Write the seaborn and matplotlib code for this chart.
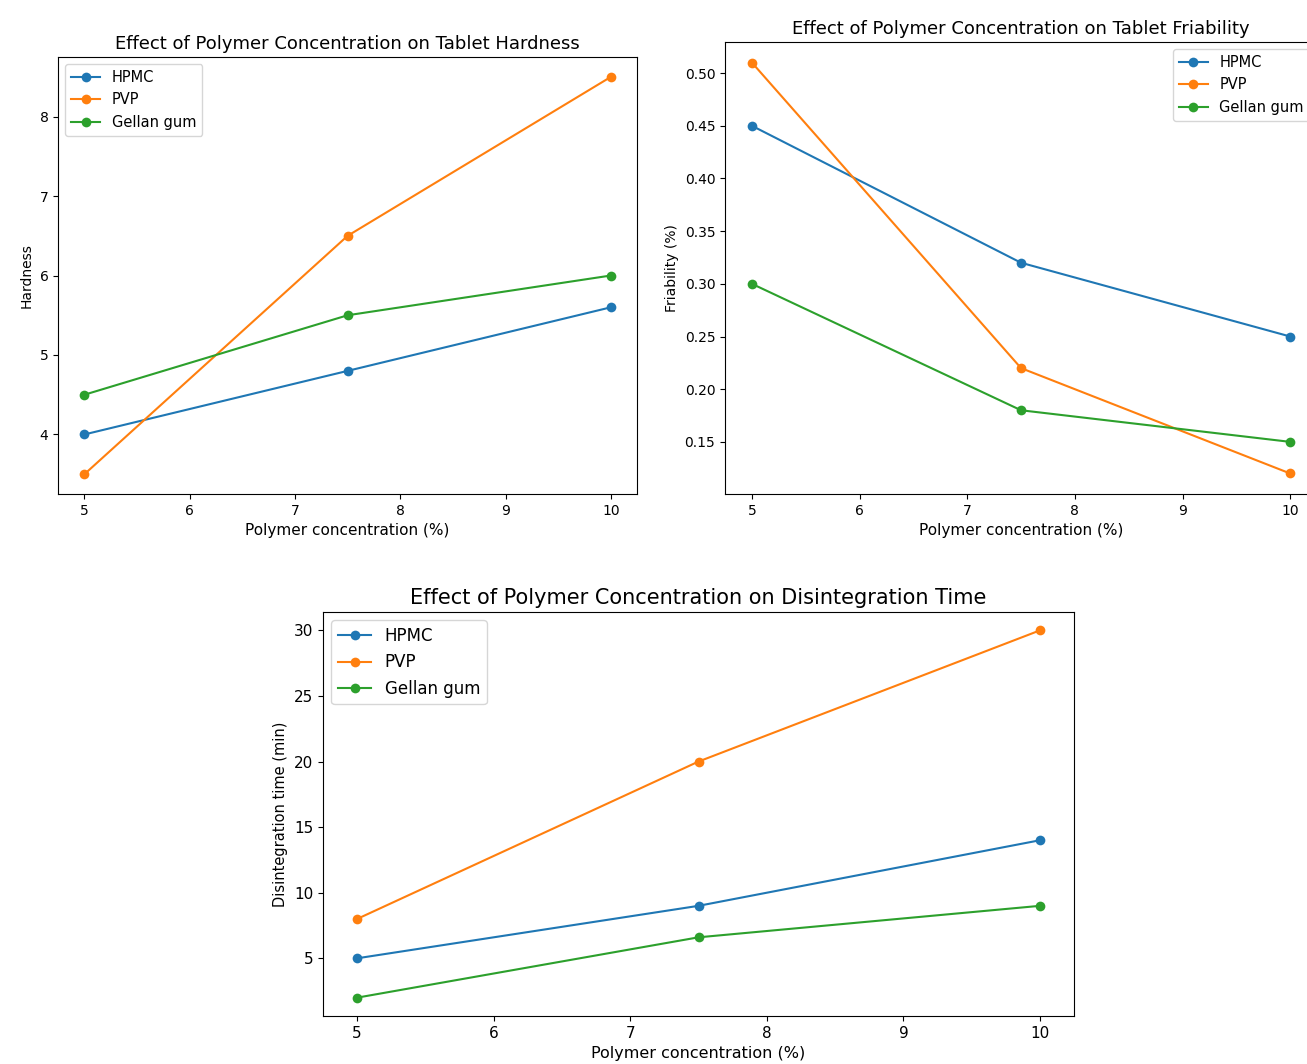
import numpy as np
import pandas as pd
import seaborn as sns
from matplotlib import pyplot as plt

concentration = [5, 7.5, 10]
polymers = ['HPMC', 'PVP', 'Gellan gum']
colors = ['#1f77b4', '#ff7f0e', '#2ca02c']

hardness_hpmc = [4.0, 4.8, 5.6]
hardness_pvp = [3.5, 6.5, 8.5]
hardness_gellan = [4.5, 5.5, 6.0]

friability_hpmc = [0.45, 0.32, 0.25]
friability_pvp = [0.51, 0.22, 0.12]
friability_gellan = [0.30, 0.18, 0.15]

disint_hpmc = [5, 9, 14]
disint_pvp = [8, 20, 30]
disint_gellan = [2, 6.6, 9]


def draw(ax, series, title, ylabel, loc, title_size, tick_size, label_size, legend_size):
    for name, vals, c in zip(polymers, series, colors):
        sns.lineplot(x=concentration, y=vals, ax=ax, label=name, color=c,
                     marker='o', markersize=7, markeredgewidth=0, linewidth=1.5)
    ax.set_title(title, fontsize=title_size)
    ax.set_xlabel('Polymer concentration (%)', fontsize=label_size)
    ax.set_ylabel(ylabel, fontsize=label_size - 1)
    ax.tick_params(labelsize=tick_size)
    ax.legend(loc=loc, fontsize=legend_size)


fig = plt.figure(figsize=(13.07, 10.64), dpi=100)
ax1 = fig.add_axes([0.0445, 0.5357, 0.4430, 0.4107])
ax2 = fig.add_axes([0.5547, 0.5357, 0.4530, 0.4248])
ax3 = fig.add_axes([0.2471, 0.0451, 0.5747, 0.3797])

draw(ax1, [hardness_hpmc, hardness_pvp, hardness_gellan],
     'Effect of Polymer Concentration on Tablet Hardness', 'Hardness',
     'upper left', 13, 10, 11, 10.5)
draw(ax2, [friability_hpmc, friability_pvp, friability_gellan],
     'Effect of Polymer Concentration on Tablet Friability', 'Friability (%)',
     'upper right', 13, 10, 11, 10.5)
draw(ax3, [disint_hpmc, disint_pvp, disint_gellan],
     'Effect of Polymer Concentration on Disintegration Time', 'Disintegration time (min)',
     'upper left', 15, 11, 11.5, 12)

ax1.set_yticks([4, 5, 6, 7, 8])
ax3.set_yticks([5, 10, 15, 20, 25, 30])

fig.savefig('out.png', dpi=100)
